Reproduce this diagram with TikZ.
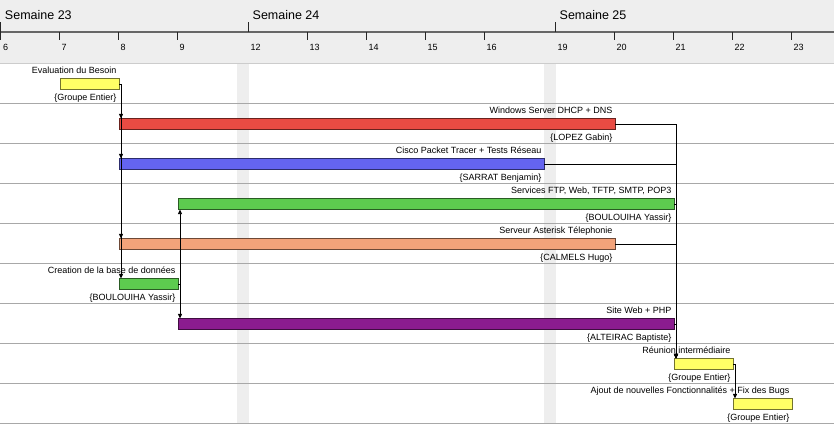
\documentclass[tikz,border=0pt]{standalone}
\usepackage{fontspec}
\setmainfont{Liberation Sans}
\usetikzlibrary{arrows.meta}
\definecolor{hdrgray}{HTML}{EEEEEE}
\definecolor{rowline}{HTML}{A8A8A8}
\definecolor{axisgray}{HTML}{666666}
\definecolor{barYellow}{HTML}{FFFF66}
\definecolor{barRed}{HTML}{E94B43}
\definecolor{barBlue}{HTML}{6464F0}
\definecolor{barGreen}{HTML}{5DCB4F}
\definecolor{barOrange}{HTML}{F3A37A}
\definecolor{barPurple}{HTML}{8B1C8F}

\begin{document}
\begin{tikzpicture}[x=1pt,y=-1pt,
	bar/.style={draw=#1!45!black, fill=#1, line width=0.6pt, minimum height=10.5pt, inner sep=0pt, anchor=west},
	tasklab/.style={font=\fontsize{9}{10}\selectfont, inner sep=0pt, anchor=base east},
	weeklab/.style={font=\fontsize{12.5}{14}\selectfont, inner sep=0pt, anchor=base west},
	daylab/.style={font=\fontsize{9}{10}\selectfont, inner sep=0pt, anchor=base west},
	tick/.style={draw=black!85, line width=0.8pt},
	dep/.style={line width=0.8pt, -{Triangle[length=4.5pt,width=4pt]}}]
	\useasboundingbox (0,0) rectangle (834,424);
	% header band and weekends
	\fill[hdrgray] (0,0) rectangle (834,63);
	\fill[hdrgray] (236.5,63) rectangle (248.5,424);
	\fill[hdrgray] (543.5,63) rectangle (555.5,424);
	\draw[black!20, line width=0.8pt] (0,63) -- (834,63);
	\foreach \k in {1,...,8} { \draw[rowline, line width=0.6pt] (0,{63+40*\k}) -- (834,{63+40*\k}); }
	\draw[rowline, line width=0.6pt] (0,423) -- (834,423);
	% time axis
	\draw[axisgray, line width=1.2pt] (0,32) -- (834,32);
	\foreach \x/\w in {0.8/23, 248.5/24, 555.5/25} {
		\draw[tick] (\x,22) -- (\x,32);
		\node[weeklab] (w\w) at (\x+4,19) {Semaine \w};
	}
	\foreach \d/\x in {6/0.8,7/59.5,8/118.5,9/177.5,12/248.5,13/307.5,14/366.5,15/425.5,16/484.5,19/555.5,20/614.5,21/673.5,22/732.5,23/791.5} {
		\node[daylab] (d\d) at (\x+2,50) {\d};
	}
	\foreach \x in {0.8,59.5,118.5,177.5,307.5,366.5,425.5,484.5,614.5,673.5,732.5,791.5} { \draw[tick] (\x,32) -- (\x,40); }
	% task bars with names and resources
	\foreach \i/\xa/\xb/\col/\task/\who in {
		1/59.5/118.5/barYellow/Evaluation du Besoin/Groupe Entier,
		2/118.5/614.5/barRed/Windows Server DHCP + DNS/LOPEZ Gabin,
		3/118.5/543.5/barBlue/Cisco Packet Tracer + Tests Réseau/SARRAT Benjamin,
		4/177.5/673.5/barGreen/{Services FTP, Web, TFTP, SMTP, POP3}/BOULOUIHA Yassir,
		5/118.5/614.5/barOrange/Serveur Asterisk Télephonie/CALMELS Hugo,
		6/118.5/177.5/barGreen/Creation de la base de données/BOULOUIHA Yassir,
		7/177.5/673.5/barPurple/Site Web + PHP/ALTEIRAC Baptiste,
		8/673.5/732.5/barYellow/Réunion intermédiaire/Groupe Entier,
		9/732.5/791.5/barYellow/Ajout de nouvelles Fonctionnalités + Fix des Bugs/Groupe Entier} {
		\node[bar=\col, minimum width={\xb-\xa}] (b\i) at (\xa,{63+40*(\i-1)+21}) {};
		\node[tasklab] (t\i) at ([xshift=-2.5pt,yshift=4.5pt]b\i.north east) {\task};
		\node[tasklab] (r\i) at ([xshift=-2.5pt,yshift=-11pt]b\i.south east) {\{\who\}};
	}
	% dependencies
	\foreach \s/\t in {1/2,1/3,1/5,1/6,6/7,2/8,3/8,4/8,5/8,7/8,8/9} {
		\draw[dep] (b\s.east) -| ([xshift=2.5pt]b\t.north west);
	}
	\draw[dep] (b6.east) -| ([xshift=2.5pt]b4.south west);
\end{tikzpicture}
\end{document}
